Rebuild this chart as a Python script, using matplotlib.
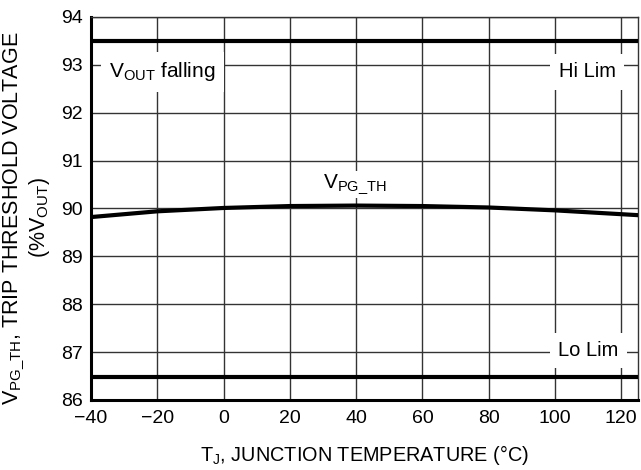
import matplotlib.pyplot as plt
import numpy as np

plt.rcParams['font.family'] = ['Liberation Sans', 'DejaVu Sans']
plt.rcParams['mathtext.fontset'] = 'custom'
plt.rcParams['mathtext.rm'] = 'Liberation Sans'

temp = [-40, -20, 0, 20, 40, 60, 80, 100, 125]
vpg_th = [89.82, 89.94, 90.01, 90.05, 90.06, 90.05, 90.02, 89.96, 89.86]
hi_lim = 93.5
lo_lim = 86.47

fig = plt.figure(figsize=(6.41, 4.70), dpi=100)
ax = fig.add_axes([0.142, 0.149, 0.853, 0.815])

ax.plot(temp, vpg_th, color="black", lw=3, zorder=3)
ax.axhline(hi_lim, color="black", lw=3, zorder=3)
ax.axhline(lo_lim, color="black", lw=3, zorder=3)

ax.set_xlim(-40, 125)
ax.set_ylim(86, 94)
ax.set_xticks(np.arange(-40, 121, 20))
ax.set_yticks(np.arange(86, 95, 1))
ax.grid(True, color="#333333", lw=1)
ax.tick_params(length=0, labelsize=14, colors="black")
ax.tick_params(axis="x", pad=7)
ax.tick_params(axis="y", pad=6)

for s in ["left", "bottom"]:
    ax.spines[s].set_linewidth(2.2)
for s in ["top", "right"]:
    ax.spines[s].set_linewidth(1)
    ax.spines[s].set_color("#333333")

box = dict(facecolor="white", edgecolor="none", pad=6)
ax.text(-18.5, 92.85, r"$\mathregular{V_{OUT}}$ falling", fontsize=15,
        ha="center", va="center", bbox=box, zorder=4)
ax.text(109.7, 92.85, "Hi Lim", fontsize=14.5, ha="center", va="center", bbox=box, zorder=4)
ax.text(110, 87.03, "Lo Lim", fontsize=14.5, ha="center", va="center", bbox=box, zorder=4)
ax.text(39.5, 90.5, r"$\mathregular{V_{PG\_TH}}$", fontsize=15,
        ha="center", va="center", bbox=dict(facecolor="white", edgecolor="none", pad=1), zorder=4)

ax.set_xlabel(r"$\mathregular{T_J}$, JUNCTION TEMPERATURE (°C)", fontsize=14.3, labelpad=12)
ax.set_ylabel("$\\mathregular{V_{PG\\_TH}}$, TRIP THRESHOLD VOLTAGE\n(%$\\mathregular{V_{OUT}}$)",
              fontsize=15.5, linespacing=1.0)
ax.yaxis.set_label_coords(-0.072, 0.475)

fig.savefig("out.png", dpi=100)
